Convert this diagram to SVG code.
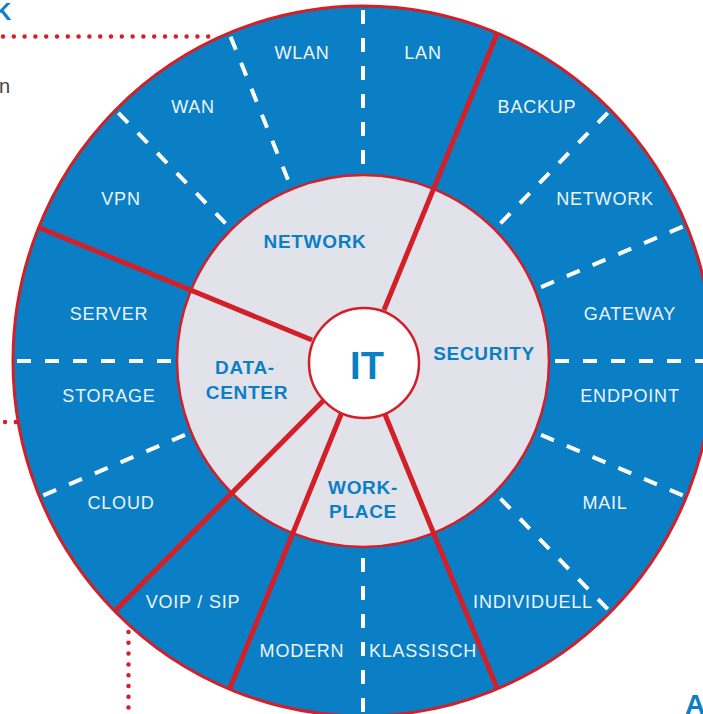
<svg xmlns="http://www.w3.org/2000/svg" width="703" height="714" viewBox="0 0 703 714">
<style>
.outer{fill:#0a7fc5;stroke:#d21f28;stroke-width:3}
.inner{fill:#e2e2ea;stroke:#d21f28;stroke-width:2.5}
.core{fill:#ffffff;stroke:#d21f28;stroke-width:2.5}
.red{stroke:#d21f28;stroke-width:5;fill:none}
.dash{stroke:#ffffff;stroke-width:4;stroke-dasharray:14 14;fill:none}
.dot{stroke:#d21f28;stroke-width:4.5;stroke-linecap:round;stroke-dasharray:0 10.8;fill:none}
.lbl{font-family:"Liberation Sans",Arial,sans-serif;font-size:18px;fill:#eef4fa;text-anchor:middle;letter-spacing:0.8px}
.ilbl{font-family:"Liberation Sans",Arial,sans-serif;font-size:19px;font-weight:bold;fill:#0a7fc5;text-anchor:middle;letter-spacing:0.7px}
</style>
<rect width="703" height="714" fill="#ffffff"/>
<g id="decor">
<text x="-6" y="20" font-family="Liberation Sans, Arial, sans-serif" font-size="24" font-weight="bold" fill="#0a7fc5">K</text>
<text x="10" y="93" font-family="Liberation Sans, Arial, sans-serif" font-size="20" fill="#444444" text-anchor="end">n</text>
<text x="685" y="714" font-family="Liberation Sans, Arial, sans-serif" font-size="28" font-weight="bold" fill="#0a7fc5">A</text>
<line class="dot" x1="3" y1="36.5" x2="215" y2="36.5"/>
<line class="dot" x1="5" y1="422" x2="18" y2="422"/>
<line class="dot" x1="128.5" y1="632" x2="128.5" y2="714"/>
</g>
<g id="ring">
<ellipse class="outer" cx="363" cy="361" rx="350" ry="355"/>
</g>
<g id="connectors">
<line class="dash" x1="363" y1="10" x2="363" y2="175"/>
<line class="dash" x1="607.7" y1="112.8" x2="494.5" y2="229.5"/>
<line class="dash" x1="682.7" y1="226.7" x2="534.8" y2="289.8"/>
<line class="dash" x1="709" y1="361" x2="549" y2="361"/>
<line class="dash" x1="682.7" y1="495.3" x2="534.8" y2="432.2"/>
<line class="dash" x1="607.7" y1="609.2" x2="494.5" y2="492.5"/>
<line class="dash" x1="363" y1="712" x2="363" y2="547"/>
<line class="dash" x1="43.3" y1="495.3" x2="191.2" y2="432.2"/>
<line class="dash" x1="17" y1="361" x2="177" y2="361"/>
<line class="dash" x1="118.3" y1="112.8" x2="231.5" y2="229.5"/>
<line class="dash" x1="230.6" y1="36.7" x2="291.8" y2="189.2"/>
</g>
<g id="inner-disc">
<circle class="inner" cx="363" cy="361" r="186"/>
</g>
<g id="dividers">
<line class="red" x1="497" y1="34" x2="384" y2="310"/>
<line class="red" x1="497" y1="688" x2="384" y2="412"/>
<line class="red" x1="230" y1="688" x2="342" y2="412"/>
<line class="red" x1="116" y1="610" x2="324" y2="400"/>
<line class="red" x1="40" y1="228" x2="312" y2="340"/>
</g>
<g id="center">
<circle class="core" cx="364" cy="363" r="55"/>
<text x="367" y="379" font-family="Liberation Sans, Arial, sans-serif" font-size="38" font-weight="bold" fill="#0a7fc5" text-anchor="middle">IT</text>
</g>
<g id="n-network"><text class="ilbl" x="315" y="248">NETWORK</text></g>
<g id="n-security"><text class="ilbl" x="484" y="360">SECURITY</text></g>
<g id="n-datacenter"><text class="ilbl" x="245" y="374">DATA-</text><text class="ilbl" x="247" y="399">CENTER</text></g>
<g id="n-workplace"><text class="ilbl" x="363" y="494">WORK-</text><text class="ilbl" x="363" y="518">PLACE</text></g>
<g id="n-wlan"><text class="lbl" x="302" y="59">WLAN</text></g>
<g id="n-lan"><text class="lbl" x="423" y="59">LAN</text></g>
<g id="n-wan"><text class="lbl" x="193" y="113">WAN</text></g>
<g id="n-backup"><text class="lbl" x="537" y="113">BACKUP</text></g>
<g id="n-vpn"><text class="lbl" x="121" y="205">VPN</text></g>
<g id="n-network2"><text class="lbl" x="605" y="205">NETWORK</text></g>
<g id="n-server"><text class="lbl" x="109" y="320">SERVER</text></g>
<g id="n-gateway"><text class="lbl" x="630" y="320">GATEWAY</text></g>
<g id="n-storage"><text class="lbl" x="109" y="402">STORAGE</text></g>
<g id="n-endpoint"><text class="lbl" x="630" y="402">ENDPOINT</text></g>
<g id="n-cloud"><text class="lbl" x="121" y="509">CLOUD</text></g>
<g id="n-mail"><text class="lbl" x="605" y="509">MAIL</text></g>
<g id="n-voip"><text class="lbl" x="193" y="608">VOIP / SIP</text></g>
<g id="n-individuell"><text class="lbl" x="533" y="608">INDIVIDUELL</text></g>
<g id="n-modern"><text class="lbl" x="302" y="657">MODERN</text></g>
<g id="n-klassisch"><text class="lbl" x="423" y="657">KLASSISCH</text></g>
</svg>
